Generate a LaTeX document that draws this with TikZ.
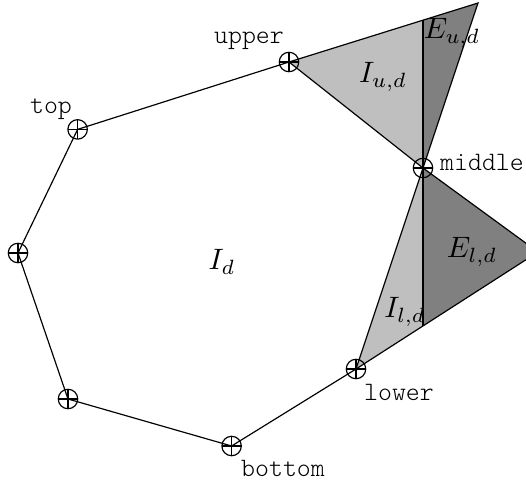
\documentclass[tikz,border=0pt]{standalone}
\begin{document}
\begin{tikzpicture}[x=0.4766cm, y=0.4766cm,
    vtx/.style={circle, draw, inner sep=0pt, minimum size=6.6pt,
      path picture={\draw (path picture bounding box.north) -- (path picture bounding box.south)
        (path picture bounding box.west) -- (path picture bounding box.east);}},
    vtxlabel/.style={font=\ttfamily\fontseries{l}\fontsize{9}{11}\selectfont}]
    \useasboundingbox (0,0) rectangle (13.15,11.975);
    \clip (0,0) rectangle (13.15,11.975);
    \coordinate (upper) at (7.225,10.425);
    \coordinate (top) at (1.94,8.74);
    \coordinate (left) at (0.45,5.65);
    \coordinate (lleft) at (1.70,2.0);
    \coordinate (bottom) at (5.79,0.825);
    \coordinate (lower) at (8.9,2.75);
    \coordinate (middle) at (10.575,7.775);
    \coordinate (atop) at (11.95,11.9);
    \coordinate (aright) at (13.45,5.675);
    \coordinate (vtop) at (10.575,11.471);
    \coordinate (vbot) at (10.575,3.827);
    \fill[black!25] (upper) -- (vtop) -- (middle) -- cycle;
    \fill[black!50] (vtop) -- (atop) -- (middle) -- cycle;
    \fill[black!25] (middle) -- (vbot) -- (lower) -- cycle;
    \fill[black!50] (middle) -- (aright) -- (vbot) -- cycle;
    \draw (upper) -- (top) -- (left) -- (lleft) -- (bottom) -- (lower) -- (middle) -- (upper);
    \draw (upper) -- (atop) -- (middle) -- (aright) -- (lower);
    \draw (vtop) -- (vbot);
    \node[vtx] (p-upper) at (upper) {};
    \node[vtx] (p-top) at (top) {};
    \node[vtx] (p-left) at (left) {};
    \node[vtx] (p-lleft) at (lleft) {};
    \node[vtx] (p-bottom) at (bottom) {};
    \node[vtx] (p-lower) at (lower) {};
    \node[vtx] (p-middle) at (middle) {};
    \node[vtxlabel] (l-upper) at (6.225,10.95) {upper};
    \node[vtxlabel] (l-top) at (1.275,9.25) {top};
    \node[vtxlabel] (l-middle) at (12.05,7.925) {middle};
    \node[vtxlabel] (l-lower) at (9.975,2.175) {lower};
    \node[vtxlabel] (l-bottom) at (7.075,0.275) {bottom};
    \node (l-id) at (5.55,5.425) {$I_d$};
    \node (l-iud) at (9.575,10.05) {$I_{u,d}$};
    \node (l-eud) at (11.3,11.15) {$E_{u,d}$};
    \node (l-eld) at (11.8,5.675) {$E_{l,d}$};
    \node (l-ild) at (10.125,4.175) {$I_{l,d}$};
\end{tikzpicture}
\end{document}
